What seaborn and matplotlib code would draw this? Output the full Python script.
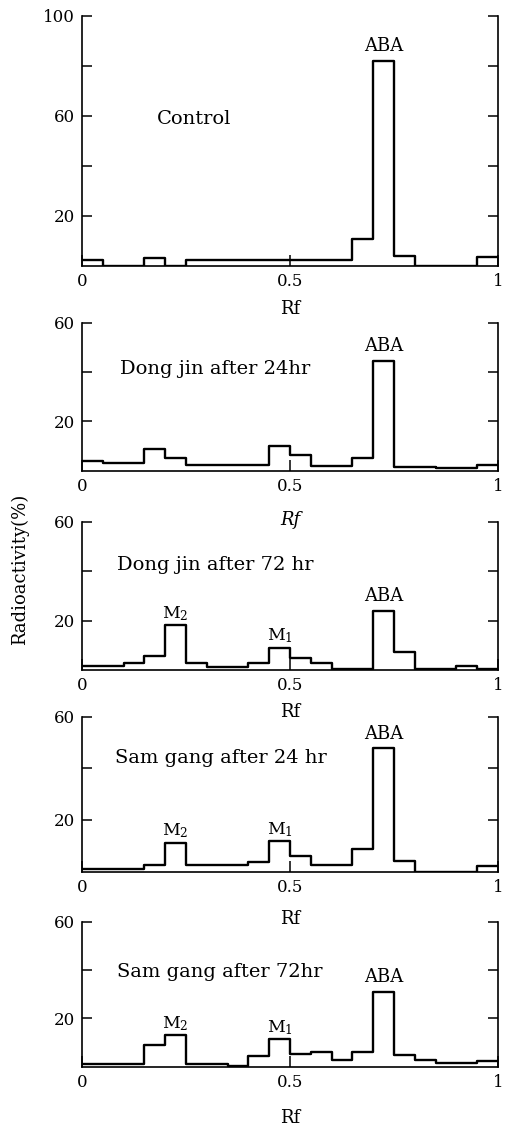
import matplotlib
matplotlib.use("Agg")
import matplotlib.pyplot as plt
import pandas as pd
import seaborn as sns

sns.set_style("ticks")
plt.rcParams["font.family"] = ["DejaVu Serif"]
plt.rcParams["mathtext.fontset"] = "dejavuserif"
plt.rcParams["text.color"] = "black"
plt.rcParams["axes.labelcolor"] = "black"

# Rf strip centres (20 strips of 0.05 each)
rf_centers = [0.025, 0.075, 0.125, 0.175, 0.225, 0.275, 0.325, 0.375, 0.425, 0.475,
              0.525, 0.575, 0.625, 0.675, 0.725, 0.775, 0.825, 0.875, 0.925, 0.975]

# Radioactivity (%) per strip
control = [2.5, 0, 0, 3.3, 0, 2.4, 2.4, 2.4, 2.4, 2.5,
           2.5, 2.6, 2.6, 11.0, 82.0, 4.1, 0, 0, 0, 3.5]
dongjin_24 = [4.0, 3.2, 3.0, 8.7, 5.1, 2.4, 2.4, 2.4, 2.4, 10.2,
              6.5, 2.0, 2.0, 5.1, 44.4, 1.7, 1.5, 1.3, 1.1, 2.4]
dongjin_72 = [1.8, 1.8, 2.8, 5.7, 18.2, 2.8, 1.1, 1.1, 3.0, 9.1,
              4.8, 2.8, 0.5, 0.5, 23.9, 7.2, 0.5, 0.5, 1.7, 0.3]
samgang_24 = [1.2, 1.1, 1.0, 2.7, 11.2, 2.5, 2.5, 2.5, 3.9, 11.9,
              5.9, 2.5, 2.5, 8.6, 47.7, 4.2, 0, 0, 0, 2.3]
samgang_72 = [1.1, 1.1, 1.1, 9.0, 13.1, 1.1, 1.1, 0.4, 4.4, 11.3,
              5.2, 6.2, 2.8, 6.2, 31.0, 4.8, 2.8, 1.7, 1.7, 2.3]

titles = ["Control", "Dong jin after 24hr", "Dong jin after 72 hr",
          "Sam gang after 24 hr", "Sam gang after 72hr"]
series = [control, dongjin_24, dongjin_72, samgang_24, samgang_72]
ymax = [100, 60, 60, 60, 60]
yticks_big = [20, 40, 60, 80, 100]
ylabels_big = ["20", "", "60", "", "100"]
yticks_small = [20, 40, 60]
ylabels_small = ["20", "", "60"]
xticks = [0, 0.5, 1]
xticklabels = ["0", "0.5", "1"]

# peak labels: (text, strip index)
peaks = [
    [("ABA", 14)],
    [("ABA", 14)],
    [("M$_2$", 4), ("M$_1$", 9), ("ABA", 14)],
    [("M$_2$", 4), ("M$_1$", 9), ("ABA", 14)],
    [("M$_2$", 4), ("M$_1$", 9), ("ABA", 14)],
]

W, H = 505, 1128
left_px, right_px = 82, 498
# (top, bottom) of each panel in pixels
panel_px = [(16, 266), (322.5, 470.8), (521.7, 670.2), (716.7, 871.6), (921.7, 1066.7)]
title_pos = [(0.180, 0.568), (0.091, 0.651), (0.083, 0.675), (0.079, 0.699), (0.083, 0.621)]
xlabel_drop = [43, 49, 42, 47, 51]
xlabel_style = ["normal", "italic", "normal", "normal", "normal"]

fig = plt.figure(figsize=(W / 100, H / 100), dpi=100)
fig.patch.set_facecolor("white")

for i, vals in enumerate(series):
    top, bot = panel_px[i]
    rect = [left_px / W, 1 - bot / H, (right_px - left_px) / W, (bot - top) / H]
    ax = fig.add_axes(rect)
    ax.patch.set_visible(False)
    df = pd.DataFrame({"rf": rf_centers, "activity": vals})
    sns.histplot(data=df, x="rf", weights="activity", bins=20, binrange=(0, 1),
                 element="step", fill=False, color="black", linewidth=1.7, ax=ax)
    ax.set_xlim(0, 1)
    ax.set_ylim(0, ymax[i])
    for side in ["left", "right", "bottom"]:
        ax.spines[side].set_visible(True)
        ax.spines[side].set_linewidth(1.2)
        ax.spines[side].set_color("black")
    ax.spines["top"].set_visible(False)

    if ymax[i] == 100:
        ax.set_yticks(yticks_big)
        ax.set_yticklabels(ylabels_big)
    else:
        ax.set_yticks(yticks_small)
        ax.set_yticklabels(ylabels_small)
    ax.set_xticks(xticks)
    ax.set_xticklabels(xticklabels)
    ax.tick_params(axis="y", direction="in", length=7.5, width=1.1, left=True,
                   right=True, labelright=False, labelsize=12, pad=5, colors="black")
    ax.tick_params(axis="x", direction="in", length=8, width=1.1, top=False,
                   labelsize=12, pad=5, colors="black")
    ax.set_ylabel("")
    ax.set_xlabel("Rf", fontsize=13, fontstyle=xlabel_style[i], color="black")
    ax.xaxis.label.set_va("center")
    ax.xaxis.set_label_coords(0.5, -xlabel_drop[i] / (bot - top))

    tx, ty = title_pos[i]
    ax.text(tx, ty, titles[i], transform=ax.transAxes, ha="left", va="baseline",
            fontsize=14, color="black")

    for label, idx in peaks[i]:
        off = 7 if label == "ABA" else 5
        size = 13 if label == "ABA" else 12.5
        ax.annotate(label, (rf_centers[idx], vals[idx]), xytext=(0, off),
                    textcoords="offset points", ha="center", va="baseline",
                    fontsize=size, color="black")

fig.text(20 / W, 1 - 569 / H, "Radioactivity(%)", rotation=90, ha="center",
         va="center", fontsize=13, color="black")

fig.savefig("out.png", dpi=100, facecolor="white")
